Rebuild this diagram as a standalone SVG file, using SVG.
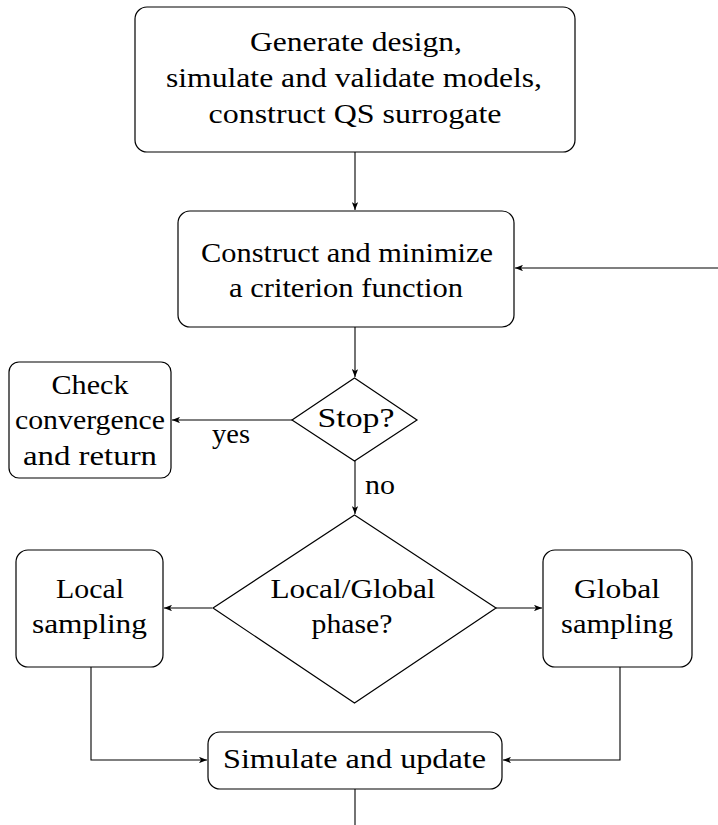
<svg xmlns="http://www.w3.org/2000/svg" width="718" height="825" viewBox="0 0 718 825">
<style>
.n{fill:#fff;stroke:#000;stroke-width:1.2}
.t{font-family:'Liberation Serif','Times New Roman','DejaVu Serif',serif;font-size:27.5px;fill:#000;text-anchor:middle}
.c{fill:none;stroke:#000;stroke-width:1.1}
</style>
<defs>
<marker id="a" viewBox="0 0 10 8" refX="10" refY="4" markerWidth="8" markerHeight="6.4" markerUnits="userSpaceOnUse" orient="auto">
<path d="M0,0 L10,4 L0,8 L2.5,4 Z" fill="#000"/>
</marker>
</defs>
<g id="connectors">
<path class="c" d="M355,152 V210" marker-end="url(#a)"/>
<path class="c" d="M718,268 H515" marker-end="url(#a)"/>
<path class="c" d="M355,327 V377" marker-end="url(#a)"/>
<path class="c" d="M292,420 H172" marker-end="url(#a)"/>
<path class="c" d="M355,461 V514" marker-end="url(#a)"/>
<path class="c" d="M212,608 H164" marker-end="url(#a)"/>
<path class="c" d="M496,608 H542" marker-end="url(#a)"/>
<path class="c" d="M91,667 V760 H207" marker-end="url(#a)"/>
<path class="c" d="M620,667 V760 H503" marker-end="url(#a)"/>
<path class="c" d="M355,789 V825"/>
<text class="t" x="231" y="443" textLength="38" lengthAdjust="spacingAndGlyphs">yes</text>
<text class="t" x="380" y="494" textLength="30" lengthAdjust="spacingAndGlyphs">no</text>
</g>
<g id="init">
<rect class="n" x="135" y="7" width="440" height="145" rx="12"/>
<text class="t" x="356" y="51" textLength="212" lengthAdjust="spacingAndGlyphs">Generate design,</text>
<text class="t" x="354" y="87" textLength="376" lengthAdjust="spacingAndGlyphs">simulate and validate models,</text>
<text class="t" x="355" y="123" textLength="293" lengthAdjust="spacingAndGlyphs">construct QS surrogate</text>
</g>
<g id="criterion">
<rect class="n" x="178" y="211" width="336" height="116" rx="12"/>
<text class="t" x="347" y="262" textLength="292" lengthAdjust="spacingAndGlyphs">Construct and minimize</text>
<text class="t" x="346" y="297" textLength="234" lengthAdjust="spacingAndGlyphs">a criterion function</text>
</g>
<g id="stop">
<polygon class="n" points="354.5,378 417,420 354.5,461 292,420"/>
<text class="t" x="356" y="427" textLength="77" lengthAdjust="spacingAndGlyphs">Stop?</text>
</g>
<g id="check">
<rect class="n" x="9" y="362" width="162" height="116" rx="10"/>
<text class="t" x="90" y="394" textLength="77" lengthAdjust="spacingAndGlyphs">Check</text>
<text class="t" x="90" y="429" textLength="150" lengthAdjust="spacingAndGlyphs">convergence</text>
<text class="t" x="90" y="465" textLength="134" lengthAdjust="spacingAndGlyphs">and return</text>
</g>
<g id="phase">
<polygon class="n" points="354.5,515 496,608 354.5,703 213,608"/>
<text class="t" x="353" y="598" textLength="165" lengthAdjust="spacingAndGlyphs">Local/Global</text>
<text class="t" x="352" y="633" textLength="81" lengthAdjust="spacingAndGlyphs">phase?</text>
</g>
<g id="local">
<rect class="n" x="16" y="550" width="147" height="117" rx="12"/>
<text class="t" x="90" y="598" textLength="68" lengthAdjust="spacingAndGlyphs">Local</text>
<text class="t" x="89.5" y="633" textLength="115" lengthAdjust="spacingAndGlyphs">sampling</text>
</g>
<g id="global">
<rect class="n" x="543" y="550" width="149" height="117" rx="12"/>
<text class="t" x="617" y="598" textLength="86" lengthAdjust="spacingAndGlyphs">Global</text>
<text class="t" x="617" y="633" textLength="112" lengthAdjust="spacingAndGlyphs">sampling</text>
</g>
<g id="update">
<rect class="n" x="208" y="732" width="294" height="57" rx="12"/>
<text class="t" x="354.5" y="768" textLength="263" lengthAdjust="spacingAndGlyphs">Simulate and update</text>
</g>
</svg>
